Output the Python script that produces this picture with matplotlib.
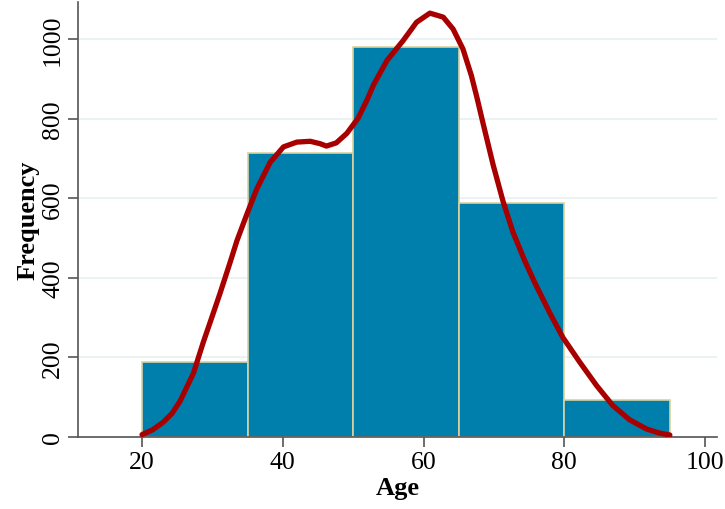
import numpy as np
import matplotlib.pyplot as plt

# histogram of age
bin_edges = [20, 35, 50, 65, 80, 95]
counts = [188, 713, 980, 588, 93]

# kernel density curve, scaled to frequency
kde_x = [20.0, 21.5, 23.0, 24.3, 25.4, 27.3, 28.7, 30.1, 31.1, 32.5, 33.5, 34.9,
         36.3, 38.2, 40.1, 42.0, 43.9, 45.3, 46.2, 47.6, 49.1, 50.7, 52.0, 52.9,
         54.8, 57.1, 59.0, 60.9, 62.8, 64.2, 65.6, 66.8, 67.6, 68.5, 69.9, 71.3,
         72.7, 74.4, 75.8, 77.9, 79.8, 82.2, 84.6, 86.9, 89.3, 91.7, 93.5, 95.0]
kde_y = [6, 18, 37, 60, 90, 160, 238, 310, 362, 438, 494, 560,
         623, 690, 729, 741, 743, 737, 731, 739, 763, 801, 848, 885,
         946, 996, 1042, 1065, 1055, 1025, 975, 908, 852, 785, 683, 592,
         515, 442, 388, 313, 250, 188, 129, 79, 43, 20, 10, 5]

xticks = [20, 40, 60, 80, 100]
yticks = [0, 200, 400, 600, 800, 1000]

plt.rcParams['font.family'] = ['Liberation Serif', 'DejaVu Serif']

fig = plt.figure(figsize=(7.25, 5.1), dpi=100)
ax = fig.add_axes([78/725, 1-438/510, (717-78)/725, (438-3)/510])

widths = np.diff(bin_edges)
ax.bar(bin_edges[:-1], counts, width=widths, align='edge', color='#007fac',
       edgecolor='#d8d2a0', linewidth=1.2, zorder=2)
ax.plot(kde_x, kde_y, color='#a80000', linewidth=3.8, solid_capstyle='round',
        solid_joinstyle='round', zorder=3)

ax.set_xlim(10.9, 101.7)
ax.set_ylim(0, 1093)
ax.set_xticks(xticks)
ax.set_yticks(yticks)
ax.set_yticklabels([str(v) for v in yticks], rotation=90, va='center')
ax.tick_params(axis='both', labelsize=18.5, color='#555555', length=7, width=1.2)
ax.tick_params(axis='x', pad=3)
ax.tick_params(axis='y', pad=3)

ax.yaxis.grid(True, color='#e8f0f2', linewidth=1.2, zorder=0)
ax.set_axisbelow(True)
for s in ['top', 'right']:
    ax.spines[s].set_visible(False)
for s in ['left', 'bottom']:
    ax.spines[s].set_color('#555555')
    ax.spines[s].set_linewidth(1.2)

ax.set_xlabel('Age', fontsize=19, fontweight='bold', labelpad=2)
ax.set_ylabel('Frequency', fontsize=19, fontweight='bold', labelpad=2)

fig.savefig('out.png', dpi=100)
